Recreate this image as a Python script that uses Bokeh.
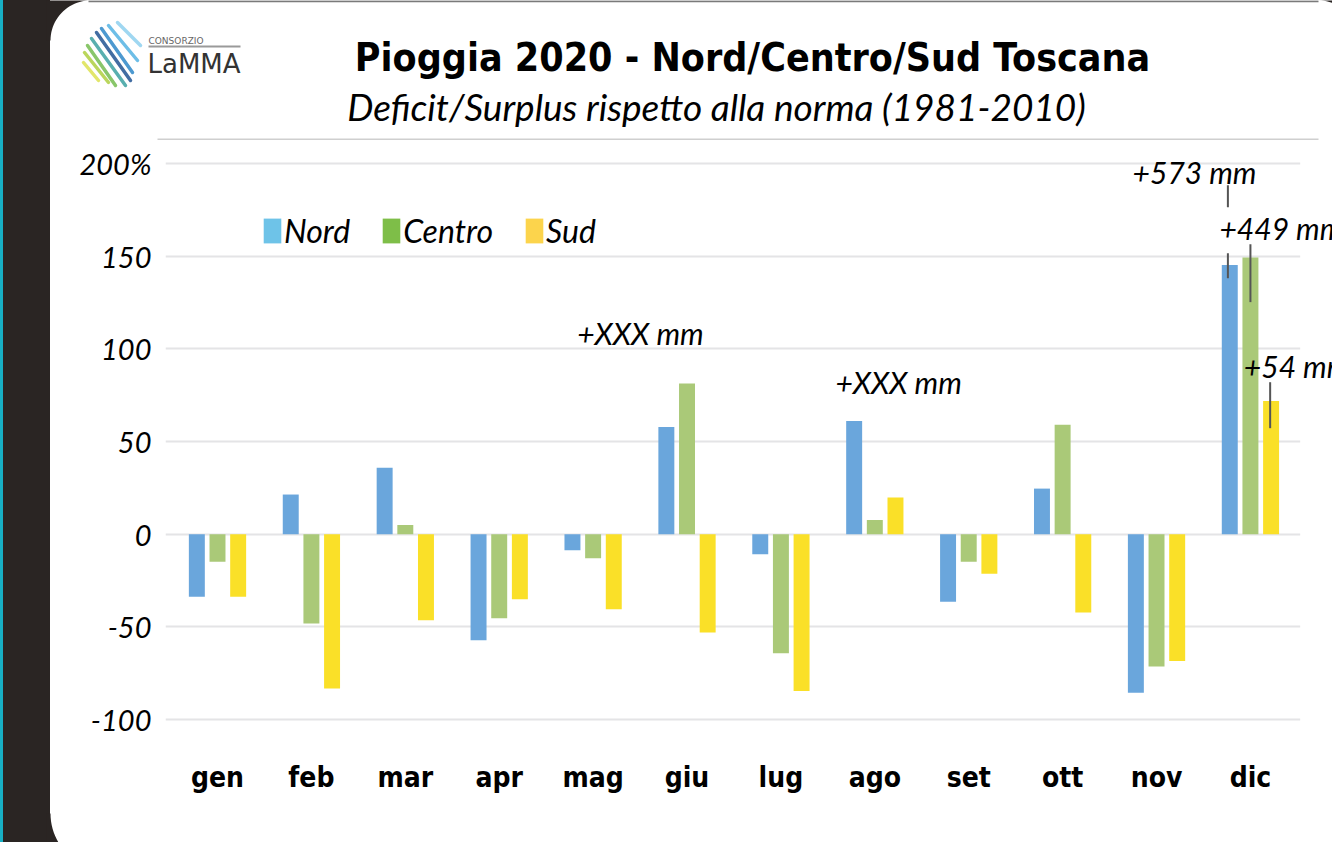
import numpy as np
from bokeh.plotting import figure
from bokeh.layouts import column
from bokeh.models import Range1d, FixedTicker, Legend, LegendItem, BoxAnnotation
from bokeh.core.properties import value
from bokeh.embed import file_html
from bokeh.resources import INLINE

# ---------------- data ----------------
months = ["gen", "feb", "mar", "apr", "mag", "giu", "lug", "ago", "set", "ott", "nov", "dic"]
series = ["Nord", "Centro", "Sud"]
nord = [-33.7, 21.4, 35.9, -57.2, -8.6, 57.9, -10.8, 61.1, -36.4, 24.6, -85.5, 145.2]
centro = [-14.8, -48.2, 5.0, -45.3, -13.0, 81.3, -64.2, 7.7, -14.8, 59.0, -71.4, 149.3]
sud = [-33.7, -83.3, -46.4, -35.1, -40.5, -53.1, -84.6, 19.8, -21.3, -42.3, -68.4, 71.9]
y_ticks = [-100, -50, 0, 50, 100, 150, 200]
y_tick_labels = ["-100", "-50", "0", "50", "100", "150", "200%"]

ann_text = ["+XXX mm", "+XXX mm", "+573 mm", "+449 mm", "+54 mm"]
ann_x = [3.83, 6.58, 9.745, 10.67, 10.93]
ann_y = [108.4, 82.0, 195.3, 165.1, 90.6]
leader_x = [10.76, 10.76, 11.0, 11.21]
leader_y0 = [188.3, 151.6, 156.4, 82.0]
leader_y1 = [176.4, 138.1, 125.2, 57.2]

title_text = "Pioggia 2020 - Nord/Centro/Sud Toscana"
subtitle_text = "Deficit/Surplus rispetto alla norma (1981-2010)"

# ---------------- styles ----------------
bar_colors = ["#6aa6dc", "#aac978", "#fae028"]
legend_colors = ["#6ec3e8", "#7ebe48", "#fcd44c"]
offsets = [-0.22, 0.0, 0.22]
BAR_W = 0.17
GRID_END = 11.53
DARK = "#2a2523"
SANS_I = "Lato"
COND = "'DejaVu Sans Condensed', 'Liberation Sans Narrow', sans-serif"
W = 1332


def blank(h, y0, y1):
    f = figure(width=W, height=h, output_backend="svg", toolbar_location=None,
               x_range=Range1d(0, W), y_range=Range1d(y1, y0), min_border=0,
               min_border_left=0, min_border_right=0, min_border_top=0, min_border_bottom=0,
               x_axis_type=None, y_axis_type=None, title=None,
               background_fill_alpha=0, border_fill_alpha=0, outline_line_color=None)
    f.grid.visible = False
    f.frame_align = False
    return f


# ---------------- header ----------------
hdr = blank(140, 0, 140)
# rounded top-left and top-right corners of the card
t = np.linspace(np.pi / 2, np.pi, 24)
hdr.patch(x=[46] + list(90 + 40 * np.cos(t)) + [46], y=[-2] + list(40 - 40 * np.sin(t)) + [40],
          fill_color=DARK, line_color=None)
t2 = np.linspace(0, np.pi / 2, 24)
hdr.patch(x=[1362] + list(1318 + 40 * np.cos(t2))[::-1] + [1362],
          y=[-2] + list(40 - 40 * np.sin(t2))[::-1] + [40], fill_color=DARK, line_color=None)
hdr.segment(x0=[88], y0=[0.8], x1=[1318], y1=[0.8], line_color="#7a7a7a", line_width=2)
# logo
stripes_x0 = [117, 108, 101, 96, 91, 87, 84, 83]
stripes_y0 = [22, 25, 28, 32, 38, 45, 52, 62]
stripes_x1 = [140, 137, 132, 130, 125, 115, 108, 98]
stripes_y1 = [45, 60, 72, 80, 85, 85, 82, 80]
stripes_c = ["#95d3ef", "#5db7e4", "#3a8ecb", "#2e5d98", "#47a6a6", "#7cc05a", "#b3d24a", "#dfe35a"]
hdr.segment(x0=stripes_x0, y0=stripes_y0, x1=stripes_x1, y1=stripes_y1,
            line_color=stripes_c, line_width=3.5, line_cap="round", line_alpha=0.9)
hdr.text(x=[148], y=[40], text=["CONSORZIO"], text_align="left", text_baseline="middle",
         text_font=value("DejaVu Sans"), text_font_size="9px", text_color="#666666")
hdr.segment(x0=[148], y0=[46], x1=[240], y1=[46], line_color="#9a9a9a", line_width=2)
hdr.text(x=[147], y=[63], text=["LaMMA"], text_align="left", text_baseline="middle",
         text_font=value("DejaVu Sans"), text_font_size="26px", text_color="#333333")
# title and subtitle
hdr.text(x=[752], y=[57], text=[title_text], text_align="center", text_baseline="middle",
         text_font=value(COND), text_font_style="bold", text_font_size="39px",
         text_color="black")
hdr.text(x=[716], y=[106], text=[subtitle_text], text_align="center", text_baseline="middle",
         text_font=value(SANS_I), text_font_style="italic", text_font_size="37px",
         text_color="black")
# top rule of the chart area
hdr.segment(x0=[157], y0=[139], x1=[1318], y1=[139], line_color="#cfcfcf", line_width=2)

# ---------------- chart ----------------
p = figure(width=W, height=660, output_backend="svg", toolbar_location=None, title=None,
           x_range=Range1d(-0.5538, 11.874), y_range=Range1d(-111.3, 212.4),
           min_border_left=165, min_border_right=0, min_border_top=0,
           min_border_bottom=60, background_fill_color="white",
           border_fill_alpha=0, outline_line_color=None)
p.frame_align = False

# grid lines stop short of the right edge, as in the original
p.add_layout(BoxAnnotation(left=GRID_END, fill_color="white", fill_alpha=1.0,
                           line_color=None, level="underlay"))

x = np.arange(len(months))
for vals, col, off in zip([nord, centro, sud], bar_colors, offsets):
    p.vbar(x=x + off, top=vals, bottom=0, width=BAR_W, fill_color=col, line_color=None)

# legend swatches (slightly different colours than the bars in the original)
dummies = [p.vbar(x=[0], top=[0], bottom=0, width=0.0001, fill_color=c, line_color=None)
           for c in legend_colors]
legend = Legend(items=[LegendItem(label=s, renderers=[d]) for s, d in zip(series, dummies)],
                orientation="horizontal", location=(96, 490),
                glyph_width=22, glyph_height=31, label_standoff=1, spacing=30,
                padding=0, margin=0, border_line_color=None, background_fill_alpha=0,
                label_text_font=SANS_I, label_text_font_style="italic",
                label_text_font_size="32px", label_text_color="black")
p.add_layout(legend)

p.xgrid.visible = False
yt = FixedTicker(ticks=y_ticks)
p.yaxis.ticker = yt
p.ygrid.ticker = yt
p.ygrid.grid_line_color = "#e4e4e6"
p.ygrid.grid_line_width = 2
p.yaxis.major_label_overrides = {tk: lb for tk, lb in zip(y_ticks, y_tick_labels)}
p.yaxis.axis_line_color = None
p.yaxis.major_tick_line_color = None
p.yaxis.minor_tick_line_color = None
p.yaxis.major_label_text_font = SANS_I
p.yaxis.major_label_text_font_style = "italic"
p.yaxis.major_label_text_font_size = "29px"
p.yaxis.major_label_text_color = "black"
p.yaxis.major_label_standoff = 8

p.xaxis.ticker = FixedTicker(ticks=list(range(len(months))))
p.xaxis.major_label_overrides = {i: m for i, m in enumerate(months)}
p.xaxis.axis_line_color = None
p.xaxis.major_tick_line_color = None
p.xaxis.minor_tick_line_color = None
p.xaxis.major_label_text_font = COND
p.xaxis.major_label_text_font_style = "bold"
p.xaxis.major_label_text_font_size = "28px"
p.xaxis.major_label_text_color = "black"
p.xaxis.major_label_standoff = 14

p.segment(x0=leader_x, y0=leader_y0, x1=leader_x, y1=leader_y1,
          line_color="#555555", line_width=2)
p.text(x=ann_x, y=ann_y, text=ann_text, text_align="left", text_baseline="middle",
       text_font=value(SANS_I), text_font_style="italic", text_font_size="30px",
       text_color="black")

# ---------------- footer (bottom-left rounded corner) ----------------
ftr = blank(42, 800, 842)
t3 = np.linspace(np.pi, np.pi / 2, 24)
ftr.patch(x=[46] + list(106.6 + 56.6 * np.cos(t3)) + [46],
          y=[813] + list(813 + 56.6 * np.sin(t3)) + [872], fill_color=DARK, line_color=None)

layout = column(hdr, p, ftr, spacing=0)
html = file_html(layout, INLINE, title="Pioggia 2020")
style = ("<style>body{background:linear-gradient(90deg,#18b0c4 0,#18b0c4 3px,"
         "#2a2523 3px,#2a2523 50px,#ffffff 50px);}</style>")
i = html.rfind("</body>")
html = html[:i] + style + html[i:]
open("out.html", "w").write(html)
